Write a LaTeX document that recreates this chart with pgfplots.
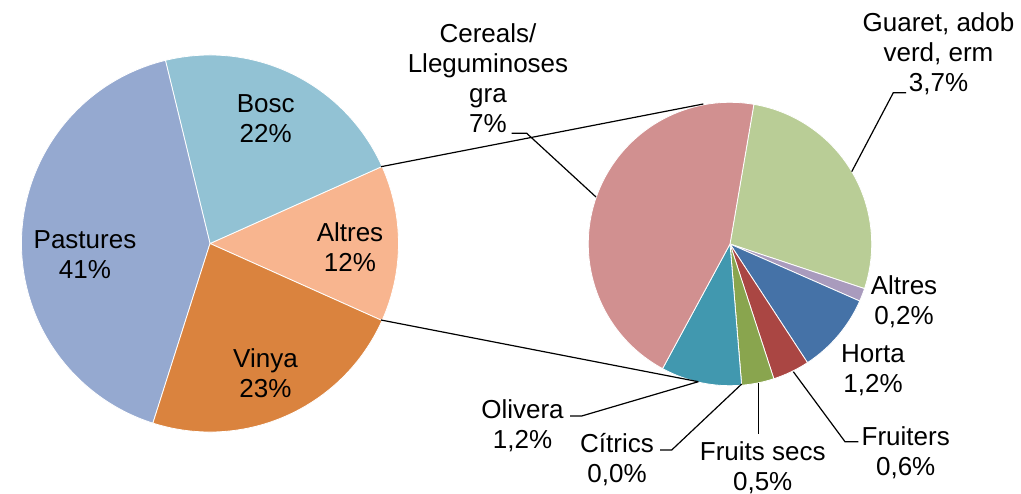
\documentclass[border=0pt]{standalone}
\usepackage{pgfplots}
\pgfplotsset{compat=1.18}
\usepackage{pgfplotstable}
\usepackage{etoolbox}
\usepackage{fontspec}
\setmainfont{Liberation Sans}

\definecolor{cPast}{HTML}{95A9D0}
\definecolor{cBosc}{HTML}{92C2D4}
\definecolor{cAltL}{HTML}{F8B58F}
\definecolor{cVinya}{HTML}{DA833E}
\definecolor{cCereals}{HTML}{D19090}
\definecolor{cGuaret}{HTML}{B9CD96}
\definecolor{cAltR}{HTML}{A99BBD}
\definecolor{cHorta}{HTML}{4572A7}
\definecolor{cFruiters}{HTML}{AA4643}
\definecolor{cSecs}{HTML}{89A54E}
\definecolor{cCitrics}{HTML}{71588F}
\definecolor{cOlivera}{HTML}{4198AF}

% main pie (share of the whole, as drawn)
\pgfplotstableread{
name value col
Altres 13.4 cAltL
Bosc 22.1 cBosc
Pastures 41.3 cPast
Vinya 23.2 cVinya
}\maintab
% secondary pie (share of "Altres", as drawn), clockwise from the top
\pgfplotstableread{
name value col
Guaret 27.4 cGuaret
Altres 1.5 cAltR
Horta 9.2 cHorta
Fruiters 4.2 cFruiters
Secs 3.7 cSecs
Citrics 0.0 cCitrics
Olivera 9.2 cOlivera
Cereals 44.8 cCereals
}\subtab

% #1 table, #2 cx, #3 cy, #4 radius, #5 start angle, #6 direction (+1 ccw / -1 cw)
\def\pieslices{}
\newcommand\buildpie[6]{%
  \pgfplotstablegetrowsof{#1}%
  \pgfmathtruncatemacro\lastrow{\pgfplotsretval-1}%
  \xdef\curang{#5}%
  \foreach \i in {0,...,\lastrow}{%
    \pgfplotstablegetelem{\i}{value}\of{#1}\let\slv\pgfplotsretval
    \pgfplotstablegetelem{\i}{col}\of{#1}\let\slc\pgfplotsretval
    \pgfmathsetmacro\slb{\curang+#6*3.6*\slv}%
    \xappto\pieslices{\noexpand\fill[\slc, draw=white, line width=0.4pt]
      (axis cs:#2,#3) -- ++(\curang:#4)
      arc[start angle=\curang, end angle=\slb, radius=#4] -- cycle;}%
    \xdef\curang{\slb}%
  }%
}
\buildpie{\maintab}{210}{249.5}{94.25pt}{-24.12}{1}
\buildpie{\subtab}{730}{249}{70.85pt}{80.3}{-1}

\newcommand\lbl{\fontsize{13}{15}\selectfont}

\begin{document}
\begin{tikzpicture}[
  ld/.style={black, line width=0.6pt, mark=none, solid},
  lb/.style={align=center, font=\lbl, inner sep=0pt, text=black},
]
\useasboundingbox (0,0) rectangle (510.5pt,246.5pt);
\begin{axis}[
  scale only axis,
  width=510.5pt, height=246.5pt,
  xmin=0, xmax=1021, ymin=0, ymax=493,
  hide axis, clip=false,
]
\pieslices

% connectors between the pies
\addplot[ld] coordinates {(381,326.3) (703.3,389)};
\addplot[ld] coordinates {(381,173) (698.3,111.3)};

% leader lines
\addplot[ld] coordinates {(511.7,359.7) (526.7,359.7) (596,296)};
\addplot[ld] coordinates {(906,400.3) (893.3,400.3) (851.7,321.3)};
\addplot[ld] coordinates {(570,77) (581.7,77) (698.3,111.3)};
\addplot[ld] coordinates {(660,43) (671.7,43) (741.7,109)};
\addplot[ld] coordinates {(758.3,109.7) (758.3,59)};
\addplot[ld] coordinates {(793.3,121.3) (845,51.3) (858.3,51.3)};

% labels
\node[lb] at (axis cs:265.7,374.5) {Bosc\\22\%};
\node[lb] at (axis cs:85,238) {Pastures\\41\%};
\node[lb] at (axis cs:350,246) {Altres\\12\%};
\node[lb] at (axis cs:265.5,120) {Vinya\\23\%};
\node[lb] at (axis cs:488,414.7) {Cereals/\\Lleguminoses\\gra\\7\%};
\node[lb] at (axis cs:938.5,438.8) {Guaret, adob\\verd, erm\\3,7\%};
\node[lb] at (axis cs:904,191.5) {Altres\\0,2\%};
\node[lb] at (axis cs:873,122.5) {Horta\\1,2\%};
\node[lb] at (axis cs:522.5,67) {Olivera\\1,2\%};
\node[lb] at (axis cs:617,33.5) {Cítrics\\0,0\%};
\node[lb] at (axis cs:762.7,25.4) {Fruits secs\\0,5\%};
\node[lb] at (axis cs:905.7,40.7) {Fruiters\\0,6\%};
\end{axis}
\end{tikzpicture}
\end{document}
